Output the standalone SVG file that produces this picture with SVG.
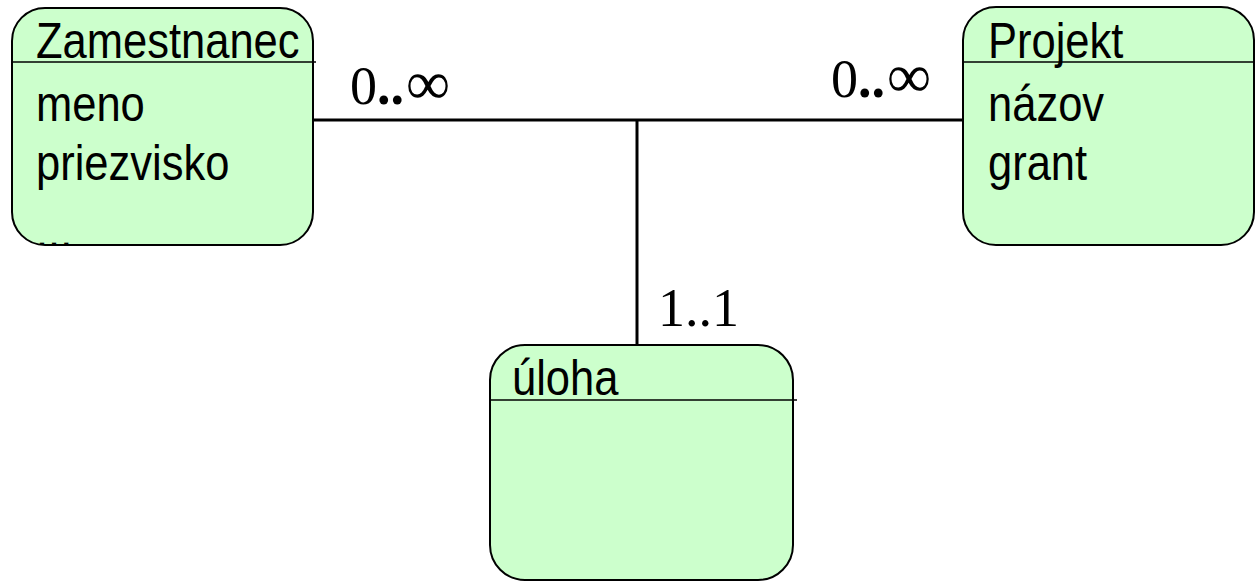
<svg xmlns="http://www.w3.org/2000/svg" width="1255" height="581" viewBox="0 0 1255 581">
<style>
.box{fill:#CCFFCC;stroke:#000;stroke-width:2}
.sep{stroke:#000;stroke-width:1.5}
.t{font-family:"Liberation Sans",Arial,sans-serif;font-size:50px;fill:#000}
.conn{stroke:#000;stroke-width:3;fill:none}
.card{font-family:"Liberation Serif","Times New Roman",serif;font-size:54px;fill:#000}
.dot{font-weight:bold}
.inf{font-size:62px}
</style>
<defs>
<clipPath id="clipZ"><rect x="12" y="8" width="301" height="237" rx="33"/></clipPath>
</defs>
<g id="connectors">
<line class="conn" x1="313" y1="120" x2="963" y2="120"/>
<line class="conn" x1="637" y1="120" x2="637" y2="345"/>
<text class="card" x="350" y="104">0<tspan class="dot">..</tspan><tspan class="inf" dx="2">∞</tspan></text>
<text class="card" x="831" y="97">0<tspan class="dot">..</tspan><tspan class="inf" dx="2">∞</tspan></text>
<text class="card" x="658" y="326">1..1</text>
</g>
<g id="zamestnanec">
<rect class="box" x="12" y="8" width="301" height="237" rx="33"/>
<line class="sep" x1="12" y1="62" x2="316" y2="62"/>
<text class="t" transform="translate(36,58) scale(0.87,1)">Zamestnanec</text>
<text class="t" transform="translate(36,121) scale(0.87,1)">meno</text>
<text class="t" transform="translate(36,180) scale(0.87,1)">priezvisko</text>
<g clip-path="url(#clipZ)">
<text class="t" transform="translate(36,248) scale(0.87,1)">...</text>
</g>
</g>
<g id="projekt">
<rect class="box" x="963" y="7" width="291" height="238" rx="33"/>
<line class="sep" x1="963" y1="62" x2="1255" y2="62"/>
<text class="t" transform="translate(988,58) scale(0.87,1)">Projekt</text>
<text class="t" transform="translate(988,121) scale(0.87,1)">názov</text>
<text class="t" transform="translate(988,180) scale(0.87,1)">grant</text>
</g>
<g id="uloha">
<rect class="box" x="490" y="345" width="303" height="235" rx="35"/>
<line class="sep" x1="490" y1="400" x2="797" y2="400"/>
<text class="t" transform="translate(512,395) scale(0.87,1)">úloha</text>
</g>
</svg>
